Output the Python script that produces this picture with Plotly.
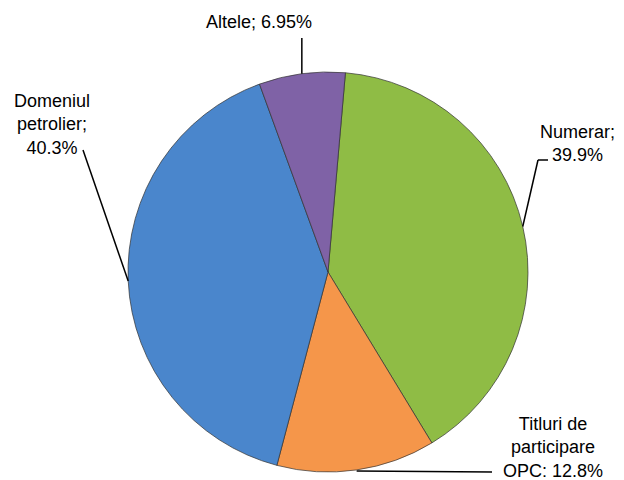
import math
import plotly.graph_objects as go

labels = ["Numerar", "Titluri de participare OPC", "Domeniul petrolier", "Altele"]
values = [39.9, 12.8, 40.3, 6.95]
colors = ["#8FBC45", "#F5964A", "#4A86CC", "#7F62A6"]
label_texts = ["Numerar;<br>39.9%", "Titluri de<br>participare<br>OPC: 12.8%",
               "Domeniul<br>petrolier;<br>40.3%", "Altele; 6.95%"]

OFF = 8                      # browser body margin
W, H = 624 - OFF, 480 - OFF  # figure size
CX, CY, R = 328, 272, 200    # pie centre / radius in window pixels
ROT = 5

def px(x, y):
    return (x - OFF) / W, 1 - (y - OFF) / H

x0d, y1d = px(CX - R, CY - R)
x1d, y0d = px(CX + R, CY + R)

fig = go.Figure(go.Pie(
    labels=labels, values=values, sort=False, direction="clockwise",
    rotation=ROT, textinfo="none", hoverinfo="label+percent",
    marker=dict(colors=colors, line=dict(color="rgba(50,50,50,0.7)", width=1)),
    domain=dict(x=[x0d, x1d], y=[y0d, y1d]),
    showlegend=False,
))

total = sum(values)
cum = 0
edge = []
for v in values:
    mid = ROT + (cum + v / 2) / total * 360
    cum += v
    a = math.radians(mid)
    edge.append((CX + R * math.sin(a), CY - R * math.cos(a)))

# text anchors (window pixels)
text_pos = [(577, 143), (553, 447), (52, 124), (259, 22)]
leader_paths = [
    [edge[0], (538, 160), (548, 160)],
    [(edge[1][0], edge[1][1] + 1), (492, 472)],
    [edge[2], (83, 150)],
    [edge[3], (edge[3][0], 38)],
]

shapes = []
for path in leader_paths:
    for (xa, ya), (xb, yb) in zip(path[:-1], path[1:]):
        a0, b0 = px(xa, ya)
        a1, b1 = px(xb, yb)
        shapes.append(dict(type="line", xref="paper", yref="paper",
                           x0=a0, y0=b0, x1=a1, y1=b1,
                           line=dict(color="black", width=1.5)))

annotations = []
for t, (x, y) in zip(label_texts, text_pos):
    a, b = px(x, y)
    annotations.append(dict(text=t, x=a, y=b, xref="paper", yref="paper",
                            showarrow=False, align="center",
                            xanchor="center", yanchor="middle",
                            font=dict(family="Liberation Sans, Arial", size=18, color="black")))

fig.update_layout(width=W, height=H, margin=dict(l=0, r=0, t=0, b=0),
                  paper_bgcolor="white", plot_bgcolor="white",
                  shapes=shapes, annotations=annotations)
fig.write_html("out.html")
